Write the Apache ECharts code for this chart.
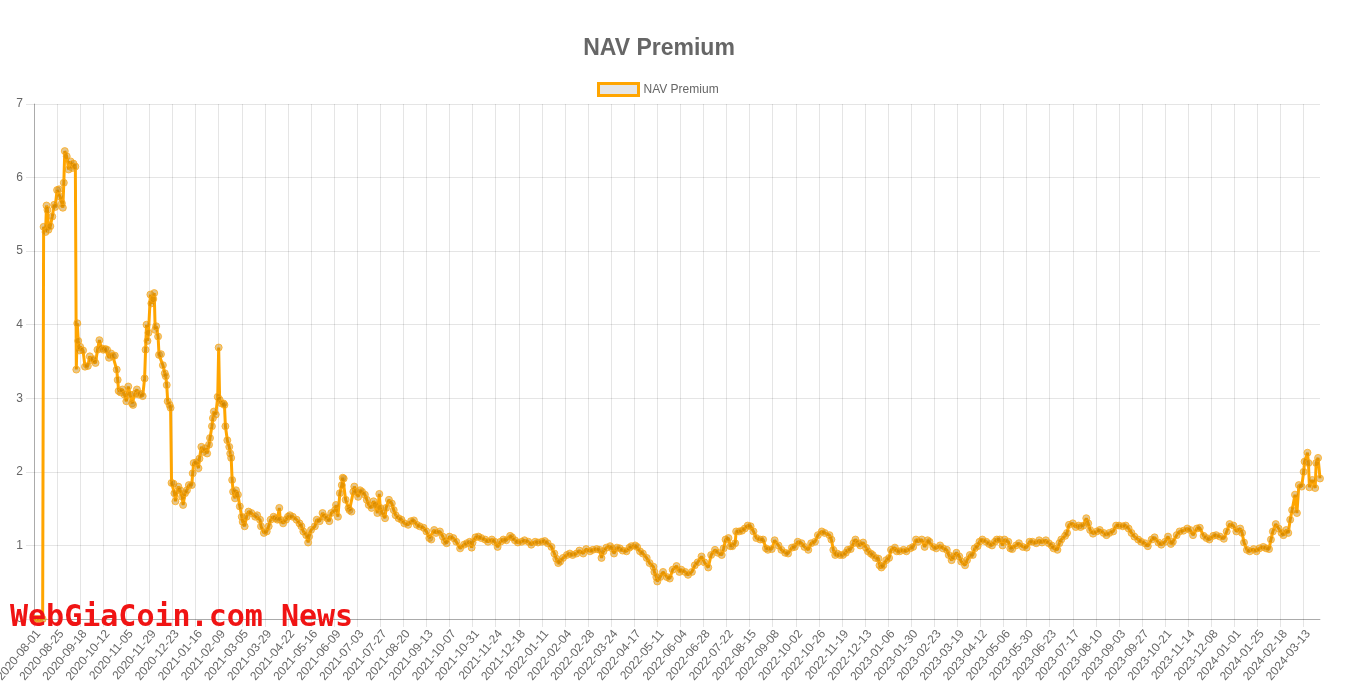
<!DOCTYPE html>
<html>
<head>
<meta charset="utf-8">
<script src="https://cdn.jsdelivr.net/npm/echarts@6/dist/echarts.min.js"></script>
<style>
html,body{margin:0;padding:0;background:#fff;}
#chart{width:1350px;height:700px;}
</style>
</head>
<body>
<div id="chart"></div>
<script>
// ---- data ----
const startDate = '2020-08-01';
const dayCount = 1338;            // daily categories 2020-08-01 .. 2024-03-29
const labelEvery = 24;             // a tick label every 24 days

// observation day (days since startDate)
const sampleDay = [
  0,3,6,9,10,12,13,14,15,17,
  19,21,22,24,26,27,29,30,31,32,
  34,36,38,40,41,43,44,45,46,47,
  48,51,53,56,58,60,62,64,66,68,
  70,72,74,76,78,80,82,84,86,87,
  88,90,92,94,96,98,100,102,103,105,
  107,109,111,113,115,116,117,118,119,121,
  122,124,125,126,127,129,130,132,134,136,
  137,138,139,141,142,143,145,146,147,150,
  152,154,155,157,159,161,164,165,166,169,
  171,172,174,176,178,180,182,183,185,186,
  187,189,191,192,193,195,197,198,199,201,
  203,204,205,206,207,209,210,212,214,216,
  217,219,221,223,226,230,232,235,236,239,
  242,244,246,249,251,253,255,256,259,262,
  264,266,269,273,276,278,280,283,285,286,
  288,292,294,297,300,302,305,307,309,313,
  314,316,318,320,321,322,324,327,328,330,
  332,333,335,337,339,341,344,346,348,351,
  353,355,357,359,360,362,365,366,369,372,
  374,376,379,382,385,389,392,395,398,401,
  405,408,411,413,416,418,422,425,427,429,
  432,436,439,443,447,450,453,455,456,459,
  462,465,469,472,476,479,482,485,488,491,
  495,497,500,503,507,510,514,517,521,524,
  528,531,534,538,541,543,545,547,550,554,
  557,560,564,567,571,574,578,581,585,588,
  590,592,595,599,601,603,606,609,612,616,
  619,621,625,627,630,633,637,640,644,645,
  647,648,651,654,658,661,664,668,671,673,
  677,680,684,687,690,694,697,701,704,708,
  711,715,717,719,722,724,726,729,730,733,
  736,739,742,745,748,751,755,758,761,763,
  767,770,774,777,781,784,788,791,794,798,
  801,805,808,812,815,819,822,827,829,831,
  833,835,838,841,844,846,849,852,854,857,
  859,862,865,867,870,872,875,878,879,881,
  883,886,889,891,895,897,900,904,907,911,
  914,917,919,923,926,929,931,935,938,942,
  945,949,951,954,956,959,962,964,968,970,
  973,976,978,981,983,986,990,993,996,999,
  1001,1004,1007,1009,1013,1015,1017,1021,1024,1028,
  1032,1035,1038,1042,1045,1048,1052,1055,1058,1060,
  1064,1066,1068,1072,1074,1076,1080,1083,1086,1088,
  1091,1094,1096,1098,1101,1105,1108,1112,1115,1118,
  1122,1125,1128,1132,1135,1138,1141,1144,1148,1151,
  1155,1158,1162,1165,1169,1172,1176,1179,1182,1184,
  1188,1191,1195,1199,1202,1205,1209,1212,1216,1219,
  1222,1226,1229,1233,1237,1240,1243,1247,1250,1254,
  1256,1258,1261,1264,1268,1271,1274,1278,1281,1284,
  1286,1288,1291,1294,1297,1299,1302,1304,1306,1308,
  1311,1313,1315,1318,1320,1321,1324,1325,1326,1329,
  1332,1333,1335,1337
];

// NAV premium read at each observation day
const navPremium = [
  0,0,0,0,5.33,5.26,5.62,5.56,5.29,5.34,
  5.47,5.63,5.60,5.83,5.84,5.74,5.65,5.59,5.93,6.36,
  6.29,6.11,6.22,6.13,6.19,6.15,3.39,4.02,3.78,3.65,
  3.70,3.65,3.43,3.44,3.57,3.52,3.53,3.48,3.66,3.79,
  3.68,3.66,3.67,3.66,3.55,3.61,3.57,3.58,3.39,3.25,
  3.10,3.08,3.12,3.05,2.96,3.16,3.05,2.93,2.91,3.06,
  3.12,3.05,3.06,3.03,3.27,3.66,4.00,3.78,3.89,4.41,
  4.29,4.35,4.43,3.93,3.98,3.84,3.59,3.60,3.45,3.34,
  3.30,3.18,2.96,2.91,2.87,1.85,1.84,1.71,1.60,1.80,
  1.75,1.66,1.55,1.71,1.75,1.82,1.82,1.98,2.12,2.13,
  2.05,2.18,2.34,2.27,2.32,2.25,2.37,2.46,2.62,2.73,
  2.82,2.78,3.02,3.69,2.98,2.93,2.93,2.91,2.62,2.43,
  2.34,2.25,2.19,1.89,1.73,1.64,1.75,1.69,1.53,1.39,
  1.32,1.26,1.39,1.46,1.44,1.39,1.41,1.35,1.26,1.17,
  1.19,1.26,1.35,1.39,1.37,1.35,1.51,1.35,1.30,1.35,
  1.39,1.41,1.39,1.35,1.30,1.26,1.19,1.14,1.04,1.12,
  1.21,1.26,1.35,1.33,1.44,1.39,1.37,1.33,1.44,1.48,
  1.55,1.39,1.71,1.82,1.92,1.91,1.62,1.51,1.48,1.46,
  1.73,1.80,1.73,1.66,1.75,1.73,1.69,1.62,1.55,1.51,
  1.60,1.55,1.44,1.70,1.51,1.44,1.37,1.51,1.62,1.57,
  1.48,1.41,1.37,1.35,1.30,1.28,1.33,1.34,1.28,1.26,
  1.24,1.19,1.10,1.08,1.21,1.17,1.19,1.12,1.06,1.03,
  1.12,1.10,1.05,0.96,1.01,1.03,1.05,0.97,1.04,1.11,
  1.12,1.10,1.08,1.05,1.08,1.05,0.98,1.05,1.08,1.07,
  1.13,1.11,1.07,1.04,1.05,1.07,1.05,1.01,1.05,1.04,
  1.05,1.06,1.03,0.98,0.89,0.82,0.76,0.78,0.83,0.87,
  0.89,0.87,0.89,0.93,0.89,0.95,0.92,0.94,0.95,0.94,
  0.83,0.92,0.97,0.99,0.96,0.89,0.97,0.96,0.93,0.92,
  0.97,0.99,1.00,0.98,0.92,0.89,0.83,0.76,0.71,0.64,
  0.57,0.51,0.57,0.64,0.57,0.55,0.67,0.72,0.64,0.67,
  0.64,0.60,0.64,0.73,0.77,0.85,0.77,0.70,0.87,0.94,
  0.90,0.87,0.96,1.08,1.10,0.99,0.99,1.03,1.19,1.19,
  1.20,1.23,1.27,1.26,1.19,1.10,1.08,1.08,0.96,0.94,
  0.95,1.07,1.00,0.94,0.90,0.89,0.97,0.98,1.05,1.03,
  0.98,0.94,1.03,1.05,1.14,1.19,1.17,1.14,1.08,0.94,
  0.87,0.89,0.87,0.87,0.90,0.94,0.95,1.03,1.08,1.03,
  1.00,1.04,0.97,0.92,0.89,0.87,0.83,0.82,0.73,0.70,
  0.73,0.80,0.83,0.94,0.97,0.92,0.92,0.94,0.92,0.96,
  0.98,1.08,1.05,1.08,0.98,1.07,1.05,0.98,0.96,1.00,
  0.96,0.94,0.87,0.80,0.85,0.90,0.85,0.78,0.73,0.80,
  0.87,0.87,0.96,0.99,1.05,1.08,1.05,1.02,1.00,1.05,
  1.08,1.08,1.00,1.08,1.05,0.96,0.95,1.00,1.03,0.98,
  0.97,1.05,1.05,1.03,1.07,1.04,1.07,1.03,1.00,0.96,
  0.94,1.03,1.08,1.13,1.17,1.28,1.30,1.25,1.27,1.25,
  1.27,1.37,1.30,1.21,1.16,1.19,1.21,1.17,1.14,1.17,
  1.19,1.27,1.27,1.26,1.27,1.23,1.17,1.12,1.08,1.05,
  1.03,0.99,1.08,1.11,1.04,1.01,1.05,1.12,1.02,1.05,
  1.14,1.19,1.20,1.23,1.21,1.14,1.23,1.24,1.13,1.10,
  1.08,1.13,1.14,1.12,1.09,1.19,1.29,1.27,1.19,1.23,
  1.17,1.04,0.94,0.92,0.95,0.92,0.96,0.98,0.96,0.95,
  1.08,1.19,1.29,1.23,1.17,1.14,1.21,1.17,1.35,1.48,
  1.69,1.44,1.82,1.80,2.00,2.14,2.26,2.12,1.79,1.89,
  1.78,2.12,2.19,1.91
];

const yTicks = [0, 1, 2, 3, 4, 5, 6, 7];

// ---- build categories & series ----
function fmt(d) {
  const m = d.getUTCMonth() + 1, dd = d.getUTCDate();
  return d.getUTCFullYear() + '-' + (m < 10 ? '0' : '') + m + '-' + (dd < 10 ? '0' : '') + dd;
}
const [sy, sm, sd] = startDate.split('-').map(Number);
const categories = [];
for (let i = 0; i < dayCount; i++) categories.push(fmt(new Date(Date.UTC(sy, sm - 1, sd + i))));

const seriesData = new Array(dayCount).fill(null);
const n = Math.min(sampleDay.length, navPremium.length);
for (let i = 0; i < n; i++) seriesData[sampleDay[i]] = navPremium[i];

const FONT = "'Liberation Sans', Arial, Helvetica, sans-serif";
const GRID = 'rgba(0,0,0,0.1)';
const ZERO = 'rgba(0,0,0,0.25)';

const chart = echarts.init(document.getElementById('chart'), null, { renderer: 'canvas' });
chart.setOption({
  animation: false,
  backgroundColor: '#ffffff',
  title: {
    text: 'NAV Premium',
    left: 654, top: 32, textAlign: 'center',
    textStyle: { fontFamily: FONT, fontSize: 23, fontWeight: 'bold', color: '#666666' }
  },
  legend: {
    left: 592, top: 77, padding: 5,
    icon: 'rect', itemWidth: 40, itemHeight: 12, itemGap: 10,
    selectedMode: false,
    itemStyle: { color: '#e5e5e5', borderColor: '#FFA500', borderWidth: 3 },
    textStyle: { fontFamily: FONT, fontSize: 12, color: '#666666' },
    data: [{ name: 'NAV Premium', itemStyle: { color: '#e5e5e5', borderColor: '#FFA500', borderWidth: 3 } }]
  },
  grid: { left: 34, right: 30, top: 104, bottom: 81, containLabel: false, outerBoundsMode: 'none' },
  xAxis: {
    type: 'category',
    data: categories,
    boundaryGap: false,
    axisLine: { show: true, lineStyle: { color: ZERO, width: 1 } },
    axisTick: { show: true, interval: labelEvery - 1, length: 8, lineStyle: { color: GRID } },
    axisLabel: { interval: labelEvery - 1, rotate: 50, margin: 9, verticalAlign: 'top', fontFamily: FONT, fontSize: 12, color: '#666666' },
    splitLine: { show: true, interval: labelEvery - 1, lineStyle: { color: GRID, width: 1 } }
  },
  yAxis: {
    type: 'value',
    min: yTicks[0], max: yTicks[yTicks.length - 1], interval: 1,
    axisLine: { show: true, lineStyle: { color: ZERO, width: 1 } },
    axisTick: { show: true, length: 8, lineStyle: { color: GRID } },
    axisLabel: { margin: 11, fontFamily: FONT, fontSize: 12, color: '#666666' },
    splitLine: { show: true, lineStyle: { color: GRID, width: 1 } }
  },
  series: [{
    name: 'NAV Premium',
    type: 'line',
    data: seriesData,
    connectNulls: true,
    showSymbol: true,
    showAllSymbol: true,
    symbol: 'circle',
    symbolSize: 7,
    lineStyle: { color: '#FFA500', width: 3 },
    itemStyle: { color: 'rgba(200,128,0,0.45)', borderColor: 'rgba(255,170,20,0.75)', borderWidth: 1 },
    emphasis: { disabled: true }
  }],
  graphic: [{
    type: 'text',
    left: 10, top: 603, z: 100,
    style: {
      text: 'WebGiaCoin.com News',
      fontFamily: "'DejaVu Sans Mono', monospace",
      fontWeight: 'bold',
      fontSize: 30,
      fill: '#f01414'
    }
  }]
});
</script>
</body>
</html>
